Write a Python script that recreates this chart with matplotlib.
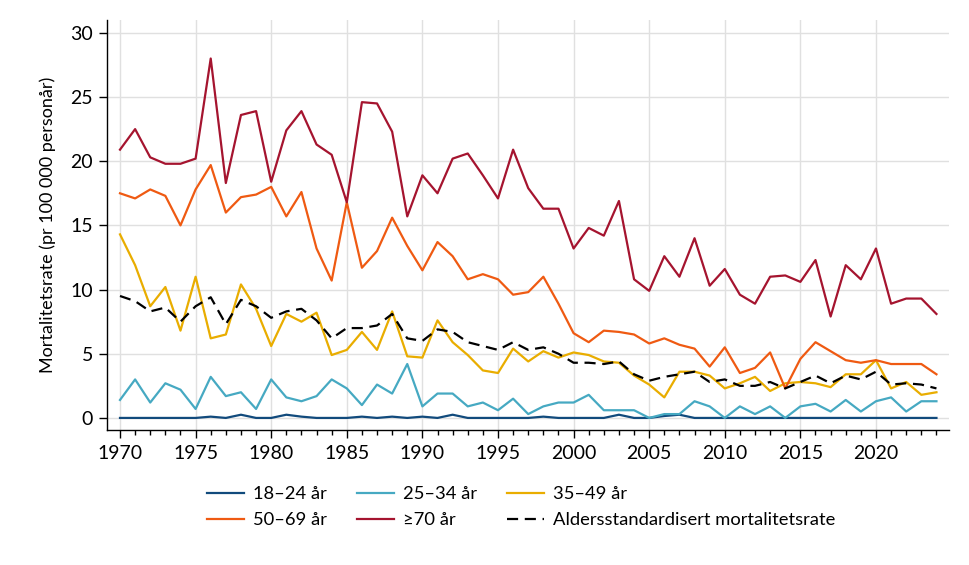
import numpy as np
import matplotlib
matplotlib.use("Agg")
import matplotlib.pyplot as plt
from matplotlib.ticker import MultipleLocator

plt.rcParams['font.family'] = ['Lato', 'DejaVu Sans']

# data
years = list(range(1970, 2025))

age_18_24 = [0, 0, 0, 0, 0, 0, 0.1, 0, 0.25, 0, 0,
             0.25, 0.1, 0, 0, 0, 0.1, 0, 0.1, 0, 0.1,
             0, 0.25, 0, 0, 0, 0, 0, 0.1, 0, 0,
             0, 0, 0.25, 0, 0, 0.15, 0.25, 0, 0, 0,
             0, 0, 0, 0, 0, 0, 0, 0, 0, 0,
             0, 0, 0, 0]

age_25_34 = [1.4, 3.0, 1.2, 2.7, 2.2, 0.7, 3.2, 1.7, 2.0, 0.7, 3.0,
             1.6, 1.3, 1.7, 3.0, 2.3, 1.0, 2.6, 1.9, 4.2, 0.9,
             1.9, 1.9, 0.9, 1.2, 0.6, 1.5, 0.3, 0.9, 1.2, 1.2,
             1.8, 0.6, 0.6, 0.6, 0.0, 0.3, 0.3, 1.3, 0.9, 0.0,
             0.9, 0.3, 0.9, 0.0, 0.9, 1.1, 0.5, 1.4, 0.5, 1.3,
             1.6, 0.5, 1.3, 1.3]

age_35_49 = [14.3, 11.9, 8.7, 10.2, 6.8, 11.0, 6.2, 6.5, 10.4, 8.5, 5.6,
             8.1, 7.5, 8.2, 4.9, 5.3, 6.7, 5.3, 8.3, 4.8, 4.7,
             7.6, 5.9, 4.9, 3.7, 3.5, 5.4, 4.4, 5.2, 4.7, 5.1,
             4.9, 4.4, 4.3, 3.3, 2.6, 1.6, 3.6, 3.6, 3.3, 2.3,
             2.7, 3.2, 2.1, 2.7, 2.8, 2.7, 2.4, 3.4, 3.4, 4.5,
             2.3, 2.8, 1.8, 2.0]

age_50_69 = [17.5, 17.1, 17.8, 17.3, 15.0, 17.8, 19.7, 16.0, 17.2, 17.4, 18.0,
             15.7, 17.6, 13.2, 10.7, 16.8, 11.7, 13.0, 15.6, 13.4, 11.5,
             13.7, 12.6, 10.8, 11.2, 10.8, 9.6, 9.8, 11.0, 8.9, 6.6,
             5.9, 6.8, 6.7, 6.5, 5.8, 6.2, 5.7, 5.4, 4.0, 5.5,
             3.5, 3.9, 5.1, 2.3, 4.6, 5.9, 5.2, 4.5, 4.3, 4.5,
             4.2, 4.2, 4.2, 3.4]

age_70 = [20.9, 22.5, 20.3, 19.8, 19.8, 20.2, 28.0, 18.3, 23.6, 23.9, 18.4,
          22.4, 23.9, 21.3, 20.5, 16.8, 24.6, 24.5, 22.3, 15.7, 18.9,
          17.5, 20.2, 20.6, 18.9, 17.1, 20.9, 17.9, 16.3, 16.3, 13.2,
          14.8, 14.2, 16.9, 10.8, 9.9, 12.6, 11.0, 14.0, 10.3, 11.6,
          9.6, 8.9, 11.0, 11.1, 10.6, 12.3, 7.9, 11.9, 10.8, 13.2,
          8.9, 9.3, 9.3, 8.1]

age_std = [9.5, 9.1, 8.3, 8.6, 7.5, 8.7, 9.4, 7.3, 9.2, 8.7, 7.8,
           8.3, 8.5, 7.6, 6.2, 7.0, 7.0, 7.2, 8.1, 6.2, 6.0,
           6.9, 6.7, 5.9, 5.6, 5.3, 5.9, 5.3, 5.5, 5.0, 4.3,
           4.3, 4.2, 4.4, 3.4, 2.9, 3.2, 3.4, 3.6, 2.8, 3.0,
           2.5, 2.5, 2.8, 2.3, 2.8, 3.3, 2.7, 3.3, 3.0, 3.6,
           2.6, 2.7, 2.6, 2.3]

series = [
    ("18–24 år", age_18_24, "#114a7c"),
    ("25–34 år", age_25_34, "#46a9c2"),
    ("35–49 år", age_35_49, "#e9ad00"),
    ("50–69 år", age_50_69, "#ef5a12"),
    ("≥70 år", age_70, "#a5142f"),
]

fig = plt.figure(figsize=(9.7, 5.65), dpi=100)
ax = fig.add_axes([107 / 970, 1 - 430 / 565, (949 - 107) / 970, (430 - 20) / 565])

handles = []
for label, vals, col in series:
    h, = ax.plot(years, vals, color=col, lw=1.6, label=label, zorder=3)
    handles.append(h)
h, = ax.plot(years, age_std, color="black", lw=1.6, ls=(0, (5, 3)),
             label="Aldersstandardisert mortalitetsrate", zorder=4)
handles.append(h)

ax.set_xlim(1969.14, 2024.83)
ax.set_ylim(-0.94, 31.0)
ax.xaxis.set_major_locator(MultipleLocator(5))
ax.xaxis.set_minor_locator(MultipleLocator(1))
ax.yaxis.set_major_locator(MultipleLocator(5))
ax.grid(True, which="major", color="#e0e0e0", lw=1.0, zorder=0)

for s in ["top", "right"]:
    ax.spines[s].set_visible(False)
ax.spines["left"].set_linewidth(1.0)
ax.spines["bottom"].set_linewidth(1.0)
ax.tick_params(axis="both", which="major", length=6, width=1.0, labelsize=14, pad=4)
ax.tick_params(axis="x", which="minor", length=3.5, width=1.0)
ax.tick_params(axis="x", which="major", pad=5)

ax.set_ylabel("Mortalitetsrate (pr 100 000 personår)", fontsize=13, labelpad=10)

# legend: three columns, two rows, filled row by row
col_x = [207, 357, 507]
for c in range(3):
    hs = [handles[c], handles[c + 3]]
    fig.legend(hs, [x.get_label() for x in hs],
               loc="center left", bbox_to_anchor=(col_x[c] / 970, 1 - 507 / 565),
               frameon=False, fontsize=13.2, handlelength=2.0, handletextpad=0.5,
               labelspacing=0.55, borderpad=0, borderaxespad=0)

fig.savefig("out.png", dpi=100)
